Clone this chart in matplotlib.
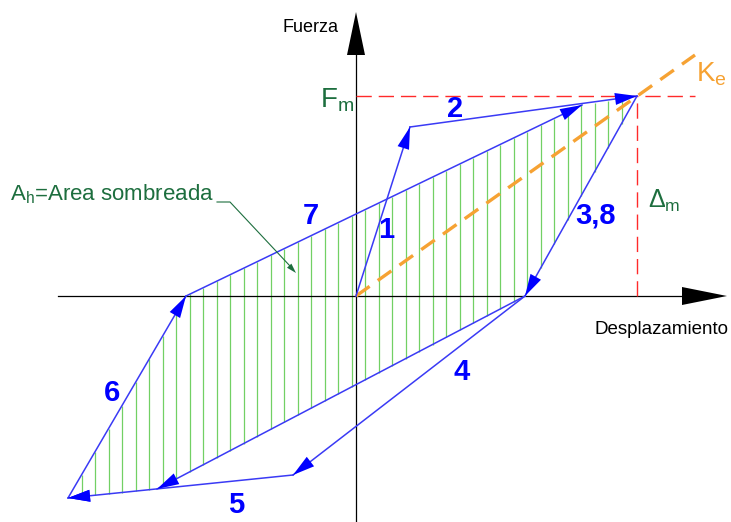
import numpy as np
import matplotlib.pyplot as plt

plt.rcParams['font.family'] = ['Liberation Sans', 'DejaVu Sans']
plt.rcParams['mathtext.fontset'] = 'custom'
plt.rcParams['mathtext.rm'] = 'Liberation Sans'
plt.rcParams['mathtext.it'] = 'Liberation Sans:italic'
plt.rcParams['mathtext.bf'] = 'Liberation Sans:bold'

# hysteresis loop vertices (displacement, force), origin at (0, 0)
pt_A = (54, 169)      # end of branch 1
pt_P = (281, 200)     # peak (Delta_m, F_m)
pt_J = (226, 191)     # branch 7 meets branch 2
pt_R = (169, 0)       # unloading reaches zero force
pt_C = (-63, -179)    # end of branch 4
pt_D = (-199, -193)   # end of second unloading (8)
pt_B = (-288, -202)   # negative peak
pt_L = (-170, 0)      # reloading crosses zero force
ke_end = (339, 241)

# branches: (start, end) with arrow at end
branches = [
    (pt_A, pt_P),    # 2
    ((0, 0), pt_A),  # 1
    (pt_P, pt_R),    # 3,8
    (pt_R, pt_C),    # 4
    (pt_C, pt_B),    # 5
    (pt_B, pt_L),    # 6
    (pt_L, pt_J),    # 7
    (pt_R, pt_D),    # 8
]

branch_labels = ['1', '2', '3,8', '4', '5', '6', '7']
label_pos = [(30, 66), (99, 187), (240, 80), (106, -76), (-120, -209), (-244, -97), (-45, 80)]

BLUE_LINE = '#3a3af5'
BLUE = '#0000ff'
GREEN = '#1d6e3e'
ORANGE = '#f6a233'
RED = '#ff2a2a'


def arrow_head(ax, start, end, length=22, half_w=6, color=BLUE):
    s = np.array(start, float)
    e = np.array(end, float)
    u = (e - s) / np.linalg.norm(e - s)
    n = np.array([-u[1], u[0]])
    base = e - u * length
    tri = np.array([e, base + n * half_w, base - n * half_w])
    ax.fill(tri[:, 0], tri[:, 1], color=color, lw=0, zorder=5)


fig = plt.figure(figsize=(7.31, 5.22), dpi=100)
ax = fig.add_axes([0, 0, 1, 1])
ax.set_xlim(-356, 375)
ax.set_ylim(-226, 296)
ax.axis('off')

# hatching of the dissipated area
up_x = [pt_B[0], pt_L[0], pt_J[0], pt_P[0]]
up_y = [pt_B[1], pt_L[1], pt_J[1], pt_P[1]]
lo_x = [pt_B[0], pt_D[0], pt_R[0], pt_P[0]]
lo_y = [pt_B[1], pt_D[1], pt_R[1], pt_P[1]]
hx = np.arange(-274.5, 270, 13.5)
ax.vlines(hx, np.interp(hx, lo_x, lo_y), np.interp(hx, up_x, up_y),
          color='#72d064', lw=0.9, zorder=1)

# axes with arrowheads
ax.plot([-298, 330], [0, 0], color='black', lw=0.9, zorder=2)
ax.plot([0, 0], [-226, 245], color='black', lw=0.9, zorder=2)
ax.fill([326, 371, 326], [9, 0, -9], color='black', lw=0, zorder=3)
ax.fill([-9, 0, 9], [241, 284, 241], color='black', lw=0, zorder=3)

# reference lines
ax.plot([0, ke_end[0]], [pt_P[1], pt_P[1]], color=RED, lw=1.0,
        linestyle=(0, (11, 5)), zorder=2)
ax.plot([pt_P[0], pt_P[0]], [0, pt_P[1]], color=RED, lw=1.0,
        linestyle=(0, (11, 5)), zorder=2)
ax.plot([0, ke_end[0]], [0, ke_end[1]], color=ORANGE, lw=2.4,
        linestyle=(0, (5, 3)), zorder=4)

for s, e in branches:
    ax.plot([s[0], e[0]], [s[1], e[1]], color=BLUE_LINE, lw=1.1, zorder=4)
    arrow_head(ax, s, e)
# second unloading joins branch 5 at D
arrow_head(ax, pt_D, pt_B)

for lab, (x, y) in zip(branch_labels, label_pos):
    ax.text(x, y, lab, color=BLUE, fontsize=21, fontweight='bold',
            ha='center', va='center', zorder=6)

# axis titles
ax.text(-46, 268, 'Fuerza', fontsize=13, ha='center', va='center')
ax.text(373, -33, 'Desplazamiento', fontsize=13.5, ha='right', va='center')

# F_m, Delta_m, K_e
ax.text(-36, 189, r'F$_\mathrm{m}$', color=GREEN, fontsize=20, ha='left', va='baseline')
ax.text(292, 88, r'$\Delta_\mathrm{m}$', color=GREEN, fontsize=18, ha='left', va='baseline')
ax.text(340, 214, r'K$_\mathrm{e}$', color=ORANGE, fontsize=20, ha='left', va='baseline')

# shaded-area note with leader
ax.text(-346, 96, r'A$_\mathrm{h}$=Area sombreada', color=GREEN, fontsize=16,
        ha='left', va='baseline')
ax.plot([-139, -126, -66], [94, 94, 30], color=GREEN, lw=0.8, zorder=4)
arrow_head(ax, (-126, 94), (-60, 23), length=10, half_w=3, color=GREEN)

fig.savefig('out.png', dpi=100)
